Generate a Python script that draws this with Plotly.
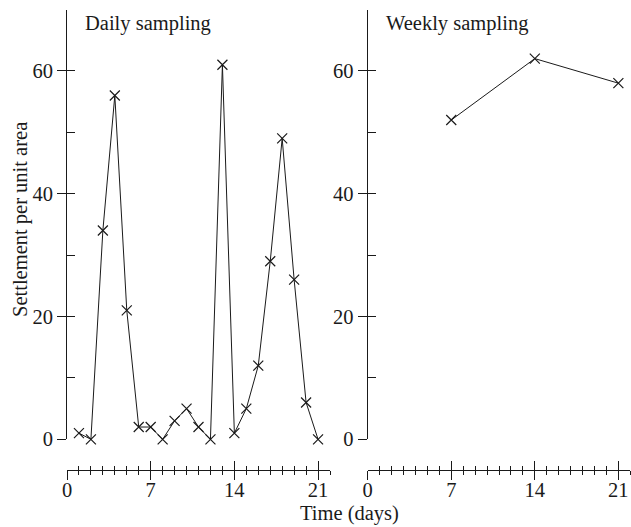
import plotly.graph_objects as go

daily_days = list(range(1, 22))
daily_values = [1, 0, 34, 56, 21, 2, 2, 0, 3, 5, 2, 0, 61, 1, 5, 12, 29, 49, 26, 6, 0]
weekly_days = [7, 14, 21]
weekly_values = [52, 62, 58]
x_ticks = [0, 7, 14, 21]
y_ticks = [0, 20, 40, 60]
panel_titles = ["Daily sampling", "Weekly sampling"]
x_title = "Time (days)"
y_title = "Settlement per unit area"

W, H = 631, 527
FONT = "Liberation Serif"
FS = 20.5
INK = "#1a1a1a"

def px_x(p):
    return p / W

def px_y(p):
    return (H - p) / H

xdom = [[px_x(67), px_x(330)], [px_x(367.7), px_x(630.3)]]
ydom = [px_y(439.3), px_y(9.5)]
xpos = px_y(470)

fig = go.Figure()
marker = dict(symbol="x-thin-open", size=10, line=dict(width=1.2, color=INK), color=INK)
fig.add_trace(go.Scatter(x=daily_days, y=daily_values, mode="lines+markers",
                         line=dict(color=INK, width=1), marker=marker,
                         xaxis="x", yaxis="y", showlegend=False, cliponaxis=False))
fig.add_trace(go.Scatter(x=weekly_days, y=weekly_values, mode="lines+markers",
                         line=dict(color=INK, width=1), marker=marker,
                         xaxis="x2", yaxis="y2", showlegend=False, cliponaxis=False))
# transparent carriers so the overlay axes (inner half of crossing ticks) get drawn
fig.add_trace(go.Scatter(x=daily_days, y=daily_values, mode="markers", opacity=0,
                         hoverinfo="skip", xaxis="x3", yaxis="y3", showlegend=False))
fig.add_trace(go.Scatter(x=weekly_days, y=weekly_values, mode="markers", opacity=0,
                         hoverinfo="skip", xaxis="x4", yaxis="y4", showlegend=False))

tickfont = dict(family=FONT, size=FS, color=INK)

def xa(dom, overlay=None, inside=False):
    d = dict(domain=dom, range=[0, 22], anchor="free", position=xpos, automargin=False,
             showgrid=False, zeroline=False, showline=not inside, linecolor=INK, linewidth=1,
             tickmode="array", tickvals=x_ticks,
             ticks="inside" if inside else "outside", ticklen=9, tickwidth=1, tickcolor=INK,
             minor=dict(ticks="inside" if inside else "outside", ticklen=4, dtick=1, tick0=0,
                        tickwidth=1, tickcolor=INK, showgrid=False),
             showticklabels=not inside, tickfont=tickfont, fixedrange=True)
    if not inside:
        d["ticklabelstandoff"] = -8
    if overlay:
        d["overlaying"] = overlay
    return d

def ya(dom, anchor, overlay=None, inside=False):
    d = dict(domain=dom, range=[0, 70], anchor=anchor, automargin=False,
             showgrid=False, zeroline=False, showline=not inside, linecolor=INK, linewidth=1,
             showticklabels=not inside, tickfont=tickfont, fixedrange=True)
    if inside:
        d.update(tickmode="linear", tick0=0, dtick=10, ticks="inside", ticklen=8,
                 tickwidth=1, tickcolor=INK)
    else:
        d.update(tickmode="array", tickvals=y_ticks, ticks="outside", ticklen=9,
                 tickwidth=1, tickcolor=INK)
    if overlay:
        d["overlaying"] = overlay
    return d

fig.update_layout(
    width=W, height=H,
    margin=dict(l=0, r=0, t=0, b=0, autoexpand=False),
    paper_bgcolor="white", plot_bgcolor="rgba(0,0,0,0)",
    font=dict(family=FONT, size=FS, color=INK),
    xaxis=xa(xdom[0]),
    xaxis2=xa(xdom[1]),
    xaxis3=xa(xdom[0], overlay="x", inside=True),
    xaxis4=xa(xdom[1], overlay="x2", inside=True),
    yaxis=ya(ydom, "x"),
    yaxis2=ya(ydom, "x2"),
    yaxis3=ya(ydom, "x3", overlay="y", inside=True),
    yaxis4=ya(ydom, "x4", overlay="y2", inside=True),
    showlegend=False,
)

fig.add_annotation(text=panel_titles[0], x=px_x(83), y=px_y(24), xref="paper", yref="paper",
                   xanchor="left", yanchor="middle", showarrow=False,
                   font=dict(family=FONT, size=FS, color=INK))
fig.add_annotation(text=panel_titles[1], x=px_x(384), y=px_y(24), xref="paper", yref="paper",
                   xanchor="left", yanchor="middle", showarrow=False,
                   font=dict(family=FONT, size=FS, color=INK))
fig.add_annotation(text=x_title, x=px_x(349), y=px_y(513), xref="paper", yref="paper",
                   xanchor="center", yanchor="middle", showarrow=False,
                   font=dict(family=FONT, size=FS, color=INK))
fig.add_annotation(text=y_title, x=px_x(20), y=px_y(220), xref="paper", yref="paper",
                   xanchor="center", yanchor="middle", showarrow=False, textangle=-90,
                   font=dict(family=FONT, size=FS, color=INK))

fig.write_html("out.html", config={"displayModeBar": False},
               post_script="document.body.style.margin='0';document.body.style.overflow='hidden';")
